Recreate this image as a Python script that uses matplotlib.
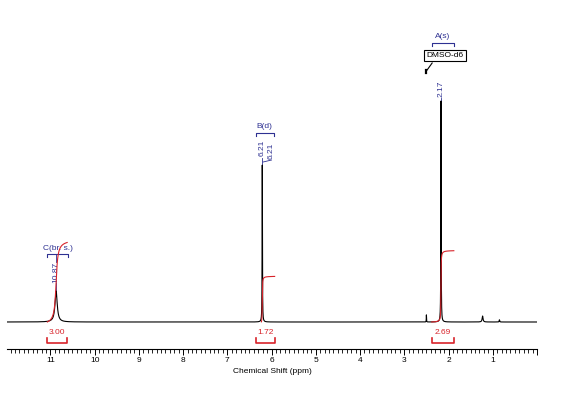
import numpy as np
import matplotlib
matplotlib.use("Agg")
from matplotlib import pyplot as plt
from matplotlib.ticker import MultipleLocator

plt.rcParams['font.family'] = ['Liberation Sans', 'DejaVu Sans']

# peaks: position (ppm), height (rel.), half width (ppm)
peak_pos = [10.87, 6.21, 2.17, 2.50, 1.23, 0.85]
peak_h = [0.14, 0.71, 1.00, 0.032, 0.027, 0.010]
peak_w = [0.030, 0.004, 0.004, 0.003, 0.012, 0.006]

# integrals: region start, end, value
int_start = [11.07, 6.36, 2.38]
int_end = [10.62, 5.93, 1.88]
int_vals = [3.00, 1.72, 2.69]
int_draw_from = [11.07, 6.23, 2.38]

# multiplet labels
mult_names = ['C(br. s.)', 'B(d)', 'A(s)']
mult_shifts = [['10.87'], ['6.21', '6.21'], ['2.17']]

RED = '#d8232a'
BLUE = '#2e3192'

ppm = np.arange(12.0, -0.0005, -0.001)
spec = np.zeros_like(ppm)
for p, h, w in zip(peak_pos, peak_h, peak_w):
    spec += h * w**2 / ((ppm - p)**2 + w**2)

fig = plt.figure(figsize=(5.88, 4.01), dpi=100)
S = 221.0  # pixels per unit intensity
base_px = 322.0
ax = fig.add_axes([7/588, 1 - 349/401, 530/588, 349/401])
ax.set_xlim(11.98, 0.0)
ax.set_ylim(-(349 - base_px)/S, base_px/S)


def yp(px):
    return (base_px - px) / S


ax.plot(ppm, spec, color='black', lw=0.8, zorder=3)

# integrals
for a, b, v, d in zip(int_start, int_end, int_vals, int_draw_from):
    m = (ppm <= d) & (ppm >= b)
    cs = np.cumsum(spec[m])
    cs = cs / cs[-1] * v * 26.5 / S
    ax.plot(ppm[m], cs, color=RED, lw=0.8, zorder=4)
    c = (a + b) / 2
    ax.plot([a, a, b, b], [yp(338), yp(343), yp(343), yp(338)], color=RED, lw=1.2, clip_on=False)
    ax.text(c, yp(333), '%.2f' % v, color=RED, fontsize=6, ha='center', va='center')

# multiplet labels
fs = 6
# C
a, b = 11.07, 10.60
ax.plot([a, a, b, b], [yp(257), yp(254), yp(254), yp(257)], color=BLUE, lw=0.8)
ax.text((a + b)/2, yp(248), mult_names[0], color=BLUE, fontsize=fs, ha='center', va='center')
ax.plot([10.87, 10.87], [yp(254), yp(262)], color=BLUE, lw=0.6)
ax.text(10.87, yp(272), mult_shifts[0][0], color=BLUE, fontsize=fs, rotation=90, ha='center', va='center')
ax.plot([10.87, 10.87], [yp(283), yp(291)], color=BLUE, lw=0.6)

# B
a, b = 6.36, 5.95
ax.plot([a, a, b, b], [yp(136), yp(133), yp(133), yp(136)], color=BLUE, lw=0.8)
ax.text((a + b)/2, yp(127), mult_names[1], color=BLUE, fontsize=fs, ha='center', va='center')
ax.text(6.21, yp(148), mult_shifts[1][0], color=BLUE, fontsize=fs, rotation=90, ha='center', va='center')
ax.text(6.00, yp(151), mult_shifts[1][1], color=BLUE, fontsize=fs, rotation=90, ha='center', va='center')
ax.plot([6.21, 6.21], [yp(158), yp(165)], color=BLUE, lw=0.6)
ax.plot([6.00, 6.19], [yp(160), yp(162)], color=BLUE, lw=0.6)

# A
a, b = 2.38, 1.88
ax.plot([a, a, b, b], [yp(46), yp(43), yp(43), yp(46)], color=BLUE, lw=0.8)
ax.text((a + b)/2, yp(37), mult_names[2], color=BLUE, fontsize=fs, ha='center', va='center')
ax.text(2.17, yp(89), mult_shifts[2][0], color=BLUE, fontsize=fs, rotation=90, ha='center', va='center')
ax.plot([2.17, 2.17], [yp(98), yp(101)], color=BLUE, lw=0.6)

# solvent tag
ax.text(2.08, yp(55.5), 'DMSO-d6', color='black', fontsize=fs, ha='center', va='center',
        bbox=dict(boxstyle='square,pad=0.25', fc='white', ec='black', lw=0.8))
ax.plot([2.37, 2.50], [yp(63), yp(71)], color='black', lw=0.8)
ax.plot([2.50, 2.50], [yp(70), yp(73)], color='black', lw=1.6)

for s in ['top', 'left', 'right']:
    ax.spines[s].set_visible(False)
ax.spines['bottom'].set_linewidth(0.8)
ax.set_yticks([])
ax.xaxis.set_major_locator(MultipleLocator(1))
ax.xaxis.set_minor_locator(MultipleLocator(0.1))
ax.xaxis.set_major_formatter(plt.FuncFormatter(lambda v, p: '%d' % v if v >= 1 else ''))
ax.tick_params(axis='x', which='major', length=4, width=0.7, labelsize=6, pad=1.5)
ax.tick_params(axis='x', which='minor', length=3, width=0.6)
ax.set_xlabel('Chemical Shift (ppm)', fontsize=6, labelpad=3)

fig.savefig('out.png', dpi=100)
